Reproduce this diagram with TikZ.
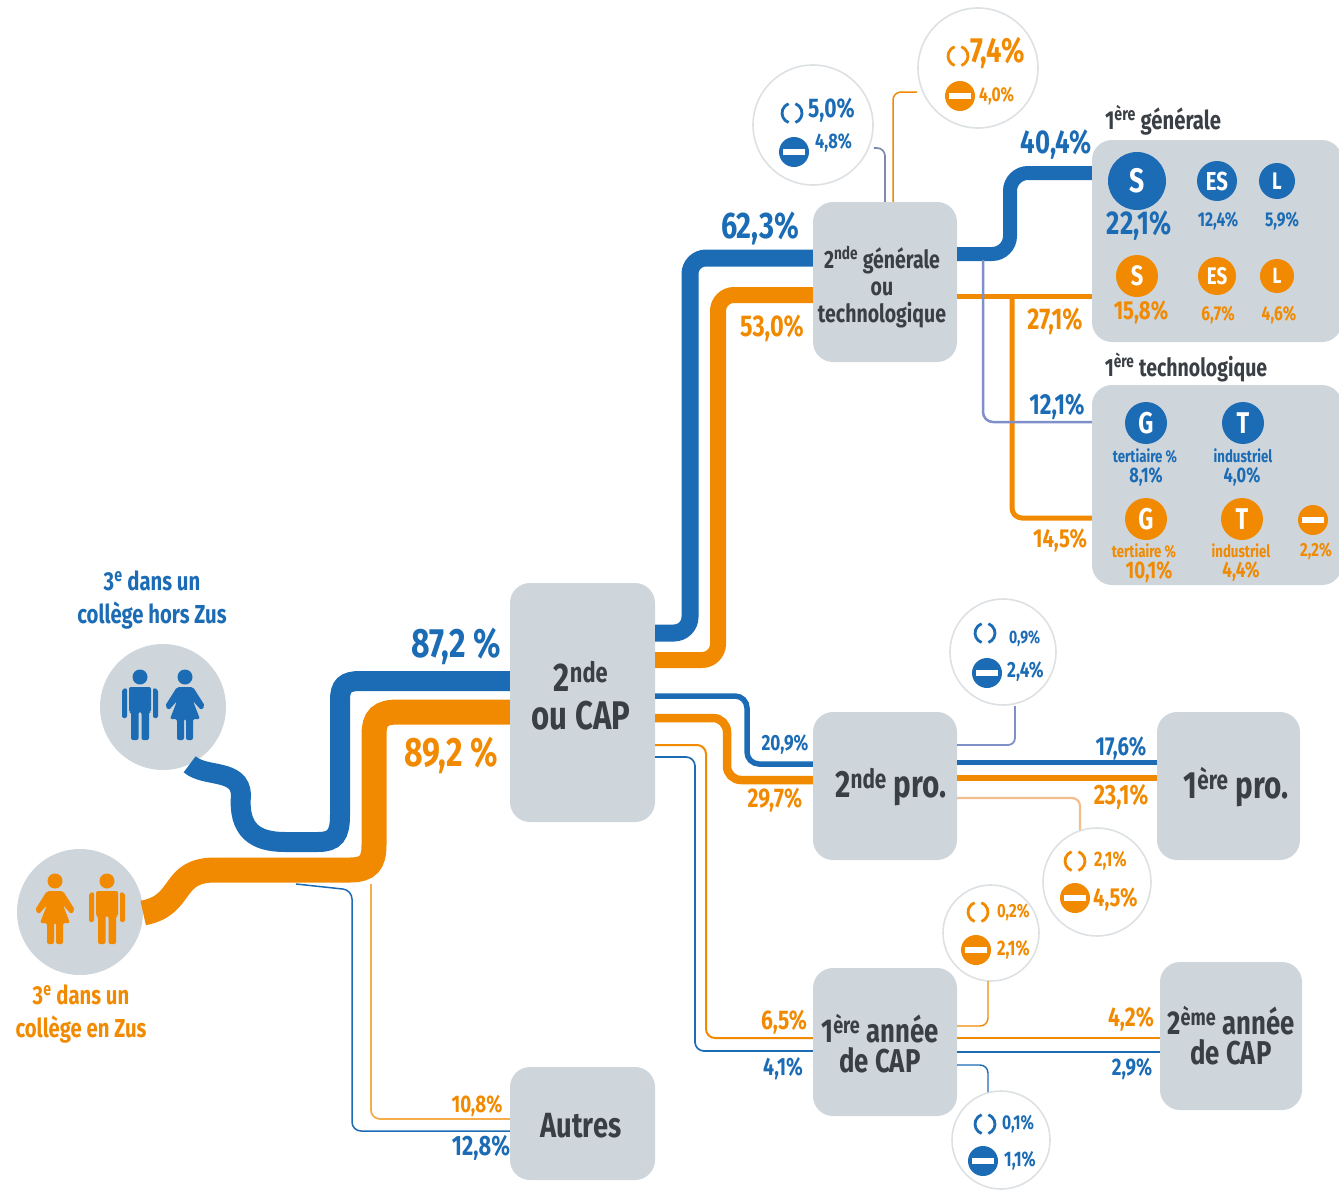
\documentclass[tikz,border=0pt]{standalone}
\usepackage{fontspec}
\setmainfont[FakeStretch=0.78]{Fira Sans}
\usetikzlibrary{calc}
\definecolor{bl}{HTML}{1B6CB5}
\definecolor{ora}{HTML}{F18A00}
\definecolor{gy}{HTML}{CED5DB}
\definecolor{lav}{HTML}{7F8FC9}
\definecolor{pal}{HTML}{F3BE8C}
\definecolor{ring}{HTML}{DDE1E4}
\definecolor{ink}{HTML}{3A3F45}
\newcommand{\fz}[1]{\fontsize{#1}{#1}\selectfont}
\newcommand{\fzb}[2]{\fontsize{#1}{#2}\selectfont}
\tikzset{
 panel/.style={fill=gy,rounded corners=20pt,inner sep=0pt},
 ptext/.style={inner sep=0pt,align=center,text=ink},
 disc/.style={circle,fill=gy,inner sep=0pt,minimum size=126pt},
 bub/.style={circle,fill=white,draw=ring,line width=1.6pt,inner sep=0pt},
 flow/.style={rounded corners=#1,line cap=butt},
 flow/.default=12pt,
 lab/.style={inner sep=0pt,align=center},
 badge/.style={circle,inner sep=0pt,text=white},
 stopsign/.pic={\fill[pic actions] (0,0) circle (15); \fill[white] (-11,-3) rectangle (11,3);},
 loopicon/.pic={\draw[pic actions,line width=2.8pt,fill=none] (-3.4,9.5) arc (110:250:10); \draw[pic actions,line width=2.8pt,fill=none] (3.4,9.5) arc (70:-70:10);},
 manfig/.pic={\fill[pic actions] (0,-27) circle (7.5);
  \fill[pic actions,rounded corners=2pt] (-11,-17) -- (11,-17) -- (11,8) -- (9,8) -- (9,36) -- (1.5,36) -- (1.5,8) -- (-1.5,8) -- (-1.5,36) -- (-9,36) -- (-9,8) -- (-11,8) -- cycle;
  \fill[pic actions,rounded corners=2pt] (-18,-15) -- (-13,-16) -- (-13,14) -- (-18,14) -- cycle;
  \fill[pic actions,rounded corners=2pt] (18,-15) -- (13,-16) -- (13,14) -- (18,14) -- cycle;},
 womanfig/.pic={\fill[pic actions] (0,-27) circle (7.5);
  \fill[pic actions,rounded corners=2pt] (-8,-17) -- (8,-17) -- (20,2) -- (16,6) -- (8,-3) -- (15,15) -- (8,15) -- (8,36) -- (1,36) -- (1,15) -- (-1,15) -- (-1,36) -- (-8,36) -- (-8,15) -- (-15,15) -- (-8,-3) -- (-16,6) -- (-20,2) -- cycle;}
}
\begin{document}
\begin{tikzpicture}[x=1pt,y=-1pt]
\useasboundingbox (0,0) rectangle (1339,1191);
% panels
\node[panel,minimum width=145pt,minimum height=239pt] (main) at (582.5,702.5) {};
\node[panel,minimum width=145pt,minimum height=113pt] (autres) at (582.5,1123.5) {};
\node[panel,minimum width=144pt,minimum height=160pt] (gt) at (885,282) {};
\node[panel,minimum width=144pt,minimum height=148pt] (pro2) at (885,786) {};
\node[panel,minimum width=143pt,minimum height=148pt] (pro1) at (1228.5,786) {};
\node[panel,minimum width=144pt,minimum height=148pt] (cap1) at (885,1042) {};
\node[panel,minimum width=142pt,minimum height=148pt] (cap2) at (1231,1036) {};
\node[panel,minimum width=250pt,minimum height=202pt] (gen) at (1217,241) {};
\node[panel,minimum width=250pt,minimum height=200pt] (tech) at (1217,485) {};
\node[disc] (hors) at (163,707) {};
\node[disc] (zus) at (80,912) {};
% panel texts
\node[ptext,font=\bfseries\fzb{40}{38}] (tmain) at (581,696) {2\textsuperscript{nde}\\ou CAP};
\node[ptext,font=\bfseries\fz{35}] (tautres) at (581,1126) {Autres};
\node[ptext,font=\bfseries\fzb{25}{27}] (tgt) at (882,287) {2\textsuperscript{nde} générale\\ou\\technologique};
\node[ptext,font=\bfseries\fz{38}] (tpro2) at (891,787) {2\textsuperscript{nde} pro.};
\node[ptext,font=\bfseries\fz{38}] (tpro1) at (1236,787) {1\textsuperscript{ère} pro.};
\node[ptext,font=\bfseries\fzb{33}{30}] (tcap1) at (880,1044) {1\textsuperscript{ère} année\\de CAP};
\node[ptext,font=\bfseries\fzb{33}{30}] (tcap2) at (1231,1036) {2\textsuperscript{ème} année\\de CAP};
% bubbles
\node[bub,minimum size=120pt] (b1) at (813,125) {};
\node[bub,minimum size=120pt] (b2) at (978,68) {};
\node[bub,minimum size=106pt] (b3) at (1003,652) {};
\node[bub,minimum size=108pt] (b4) at (1097,882) {};
\node[bub,minimum size=96pt] (b5) at (991,933) {};
\node[bub,minimum size=98pt] (b6) at (1001,1140) {};
% big flows
\draw[bl,line width=20pt] (hors.-65) .. controls (205,778) and (240,768) .. (241,795) .. controls (238,830) and (255,842) .. (285,842) -- (318,842) .. controls (335,842) and (340,835) .. (340,815) -- (340,700) .. controls (340,686) and (345,681) .. (360,681) -- (main.west |- 0,681);
\draw[ora,line width=25pt] (zus.east |- 0,913) .. controls (185,905) and (170,870) .. (215,870) -- (350,870) .. controls (368,870) and (374,863) .. (374,845) -- (374,735) .. controls (374,718) and (380,712) .. (398,712) -- (main.west |- 0,712);
\draw[bl,line width=17pt,flow=16pt] (main.east |- 0,633) -- (690,633) -- (690,258) -- (gt.west |- 0,258);
\draw[ora,line width=16pt,flow=16pt] (main.east |- 0,660) -- (718,660) -- (718,295) -- (gt.west |- 0,295);
\draw[bl,line width=14pt,flow=18pt] (gt.east |- 0,254) -- (1010,254) -- (1010,173) -- (gen.west |- 0,173);
\draw[ora,line width=5pt] (gt.east |- 0,296) -- (gen.west |- 0,296);
\draw[ora,line width=5pt,flow=10pt] (1012,296) -- (1012,518) -- (tech.west |- 0,518);
\draw[lav,line width=2.5pt,flow=10pt] (983,260) -- (983,422) -- (tech.west |- 0,422);
% to 2nde pro
\draw[bl,line width=5.5pt,flow=12pt] (main.east |- 0,696) -- (747,696) -- (747,764) -- (pro2.west |- 0,764);
\draw[ora,line width=8.5pt,flow=14pt] (main.east |- 0,718) -- (727,718) -- (727,780) -- (pro2.west |- 0,780);
\draw[ora,line width=2pt,flow=9pt] (main.east |- 0,745) -- (706,745) -- (706,1038) -- (cap1.west |- 0,1038);
\draw[bl,line width=1.7pt,flow=9pt] (main.east |- 0,757) -- (695,757) -- (695,1051) -- (cap1.west |- 0,1051);
\draw[bl,line width=5pt] (pro2.east |- 0,762) -- (pro1.west |- 0,762);
\draw[ora,line width=6pt] (pro2.east |- 0,778) -- (pro1.west |- 0,778);
\draw[ora,line width=2pt] (cap1.east |- 0,1038) -- (cap2.west |- 0,1038);
\draw[bl,line width=1.7pt] (cap1.east |- 0,1052) -- (cap2.west |- 0,1052);
% to autres
\draw[bl,line width=1.5pt,flow=9pt] (296,884) -- (352,890) -- (352,1131) -- (autres.west |- 0,1131);
\draw[ora!70!white,line width=1.8pt,flow=9pt] (371,884) -- (371,1119) -- (autres.west |- 0,1119);
% bubble links
\draw[lav!60!gray,line width=1.7pt,flow=8pt] (gt.north -| 885,0) -- (885,148) -- (b1.east |- 0,148);
\draw[ora,line width=1.5pt,flow=8pt] (gt.north -| 893,0) -- (893,92) -- (b2.west |- 0,92);
\draw[lav,line width=1.8pt,flow=7pt] (pro2.east |- 0,745) -- (1015,745) -- (1015,706);
\draw[pal,line width=2.2pt,flow=8pt] (pro2.east |- 0,798) -- (1080,798) -- (1080,830);
\draw[ora,line width=1.4pt,flow=8pt] (cap1.east |- 0,1026) -- (988,1026) -- (988,981);
\draw[bl,line width=1.4pt,flow=8pt] (cap1.east |- 0,1065) -- (988,1065) -- (988,1092);
% people
\pic[bl] at (140,704) {manfig};
\pic[bl] at (185,704) {womanfig};
\pic[ora] at (55,908) {womanfig};
\pic[ora] at (107,908) {manfig};
% titles
\node[lab,text=bl,font=\bfseries\fzb{26}{33}] (thors) at (152,600) {3\textsuperscript{e} dans un\\collège hors Zus};
\node[lab,text=ora,font=\bfseries\fzb{26}{33}] (tzus) at (81,1014) {3\textsuperscript{e} dans un\\collège en Zus};
\node[lab,text=ink,font=\bfseries\fz{26}] (tgen) at (1163,120) {1\textsuperscript{ère} générale};
\node[lab,text=ink,font=\bfseries\fz{25}] (ttech) at (1186,367) {1\textsuperscript{ère} technologique};
% flow labels
\node[lab,text=bl,font=\bfseries\fz{41}] (l1) at (456,646) {87,2 \%};
\node[lab,text=ora,font=\bfseries\fz{41}] (l2) at (451,755) {89,2 \%};
\node[lab,text=bl,font=\bfseries\fz{37}] (l3) at (760,228) {62,3\%};
\node[lab,text=ora,font=\bfseries\fz{30}] (l4) at (772,328) {53,0\%};
\node[lab,text=bl,font=\bfseries\fz{33}] (l5) at (1056,145) {40,4\%};
\node[lab,text=ora,font=\bfseries\fz{30}] (l6) at (1055,321) {27,1\%};
\node[lab,text=bl,font=\bfseries\fz{29}] (l7) at (1057,407) {12,1\%};
\node[lab,text=ora,font=\bfseries\fz{26}] (l8) at (1060,540) {14,5\%};
\node[lab,text=bl,font=\bfseries\fz{22}] (l9) at (785,745) {20,9\%};
\node[lab,text=ora,font=\bfseries\fz{27}] (l10) at (775,800) {29,7\%};
\node[lab,text=bl,font=\bfseries\fz{26}] (l11) at (1121,748) {17,6\%};
\node[lab,text=ora,font=\bfseries\fz{28}] (l12) at (1121,797) {23,1\%};
\node[lab,text=ora,font=\bfseries\fz{27}] (l13) at (784,1022) {6,5\%};
\node[lab,text=bl,font=\bfseries\fz{25}] (l14) at (783,1069) {4,1\%};
\node[lab,text=ora,font=\bfseries\fz{27}] (l15) at (1131,1019) {4,2\%};
\node[lab,text=bl,font=\bfseries\fz{24}] (l16) at (1132,1069) {2,9\%};
\node[lab,text=ora,font=\bfseries\fz{24}] (l17) at (477,1106) {10,8\%};
\node[lab,text=bl,font=\bfseries\fz{28}] (l18) at (481,1148) {12,8\%};
% general badges
\node[badge,fill=bl,minimum size=58pt,font=\bfseries\fz{34}] (s1) at (1137,181) {S};
\node[badge,fill=bl,minimum size=40pt,font=\bfseries\fz{26}] (es1) at (1217,181) {ES};
\node[badge,fill=bl,minimum size=36pt,font=\bfseries\fz{24}] (l1b) at (1277,181) {L};
\node[lab,text=bl,font=\bfseries\fz{33}] (v1) at (1139,226) {22,1\%};
\node[lab,text=bl,font=\bfseries\fz{20}] (v2) at (1218,221) {12,4\%};
\node[lab,text=bl,font=\bfseries\fz{20}] (v3) at (1282,221) {5,9\%};
\node[badge,fill=ora,minimum size=42pt,font=\bfseries\fz{28}] (s2) at (1137,276) {S};
\node[badge,fill=ora,minimum size=38pt,font=\bfseries\fz{24}] (es2) at (1217,276) {ES};
\node[badge,fill=ora,minimum size=34pt,font=\bfseries\fz{22}] (l2b) at (1277,276) {L};
\node[lab,text=ora,font=\bfseries\fz{26}] (v4) at (1141,312) {15,8\%};
\node[lab,text=ora,font=\bfseries\fz{20}] (v5) at (1218,315) {6,7\%};
\node[lab,text=ora,font=\bfseries\fz{20}] (v6) at (1279,315) {4,6\%};
% techno badges
\node[badge,fill=bl,minimum size=42pt,font=\bfseries\fz{30}] (g1) at (1146,423) {G};
\node[badge,fill=bl,minimum size=42pt,font=\bfseries\fz{30}] (t1) at (1243,423) {T};
\node[lab,text=bl,font=\bfseries\fz{17}] (n1) at (1145,456) {tertiaire \%};
\node[lab,text=bl,font=\bfseries\fz{17}] (n2) at (1243,456) {industriel};
\node[lab,text=bl,font=\bfseries\fz{21}] (v7) at (1146,477) {8,1\%};
\node[lab,text=bl,font=\bfseries\fz{21}] (v8) at (1242,477) {4,0\%};
\node[badge,fill=ora,minimum size=42pt,font=\bfseries\fz{30}] (g2) at (1146,519) {G};
\node[badge,fill=ora,minimum size=42pt,font=\bfseries\fz{30}] (t2) at (1242,519) {T};
\pic[ora] at (1313,520) {stopsign};
\node[lab,text=ora,font=\bfseries\fz{17}] (n3) at (1144,551) {tertiaire \%};
\node[lab,text=ora,font=\bfseries\fz{17}] (n4) at (1241,551) {industriel};
\node[lab,text=ora,font=\bfseries\fz{19}] (v9) at (1316,551) {2,2\%};
\node[lab,text=ora,font=\bfseries\fz{24}] (v10) at (1149,572) {10,1\%};
\node[lab,text=ora,font=\bfseries\fz{22}] (v11) at (1241,572) {4,4\%};
% bubble content
\pic[bl] at (792,113) {loopicon};
\node[lab,text=bl,font=\bfseries\fz{27},anchor=west] (q1) at (808,110) {5,0\%};
\pic[bl] at (794,152) {stopsign};
\node[lab,text=bl,font=\bfseries\fz{21},anchor=west] (q2) at (815,143) {4,8\%};
\pic[ora] at (958,56) {loopicon};
\node[lab,text=ora,font=\bfseries\fz{35},anchor=west] (q3) at (970,53) {7,4\%};
\pic[ora] at (960,96) {stopsign};
\node[lab,text=ora,font=\bfseries\fz{20},anchor=west] (q4) at (979,96) {4,0\%};
\pic[bl] at (985,633) {loopicon};
\node[lab,text=bl,font=\bfseries\fz{18},anchor=west] (q5) at (1009,639) {0,9\%};
\pic[bl] at (987,673) {stopsign};
\node[lab,text=bl,font=\bfseries\fz{22},anchor=west] (q6) at (1007,672) {2,4\%};
\pic[ora] at (1075,861) {loopicon};
\node[lab,text=ora,font=\bfseries\fz{21},anchor=west] (q7) at (1094,861) {2,1\%};
\pic[ora] at (1075,898) {stopsign};
\node[lab,text=ora,font=\bfseries\fz{26},anchor=west] (q8) at (1093,899) {4,5\%};
\pic[ora] at (978,912) {loopicon};
\node[lab,text=ora,font=\bfseries\fz{19},anchor=west] (q9) at (997,912) {0,2\%};
\pic[ora] at (976,950) {stopsign};
\node[lab,text=ora,font=\bfseries\fz{21},anchor=west] (q10) at (997,950) {2,1\%};
\pic[bl] at (985,1124) {loopicon};
\node[lab,text=bl,font=\bfseries\fz{20},anchor=west] (q11) at (1002,1124) {0,1\%};
\pic[bl] at (983,1161) {stopsign};
\node[lab,text=bl,font=\bfseries\fz{21},anchor=west] (q12) at (1004,1161) {1,1\%};
\end{tikzpicture}
\end{document}
